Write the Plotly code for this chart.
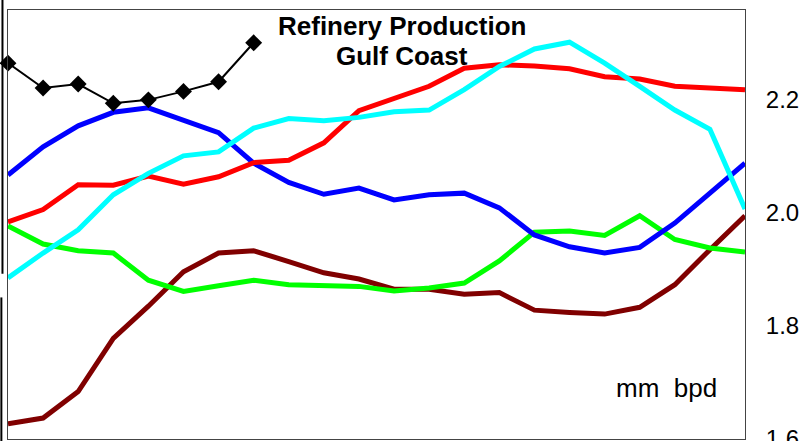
import plotly.graph_objects as go

periods = list(range(22))

red_vals = [1.984, 2.006, 2.050, 2.049, 2.065, 2.051, 2.064, 2.089, 2.093, 2.124, 2.181,
            2.203, 2.224, 2.256, 2.262, 2.260, 2.255, 2.241, 2.237, 2.224, 2.221, 2.218]
cyan_vals = [1.885, 1.929, 1.970, 2.032, 2.070, 2.101, 2.108, 2.150, 2.167, 2.163, 2.169,
             2.179, 2.182, 2.218, 2.259, 2.290, 2.302, 2.265, 2.224, 2.182, 2.148, 2.007]
blue_vals = [2.067, 2.117, 2.154, 2.178, 2.186, 2.163, 2.142, 2.088, 2.054, 2.033, 2.044,
             2.023, 2.032, 2.035, 2.009, 1.961, 1.940, 1.929, 1.939, 1.982, 2.035, 2.088]
green_vals = [1.977, 1.945, 1.933, 1.929, 1.881, 1.861, 1.871, 1.881, 1.873, 1.871, 1.870,
              1.862, 1.867, 1.876, 1.915, 1.966, 1.968, 1.960, 1.995, 1.953, 1.938, 1.931]
maroon_vals = [1.627, 1.637, 1.684, 1.778, 1.835, 1.896, 1.929, 1.933, 1.914, 1.894, 1.883,
               1.865, 1.865, 1.856, 1.859, 1.828, 1.824, 1.821, 1.833, 1.873, 1.935, 1.995]
black_vals = [2.265, 2.221, 2.228, 2.194, 2.200, 2.215, 2.232, 2.301]

y_ticks = [1.6, 1.8, 2.0, 2.2]
y_tick_labels = ["1.6", "1.8", "2.0", "2.2"]

series = [
    (maroon_vals, "#800000"),
    (green_vals, "#00FF00"),
    (blue_vals, "#0000FF"),
    (red_vals, "#FF0000"),
    (cyan_vals, "#00FFFF"),
]

fig = go.Figure()
for vals, color in series:
    fig.add_trace(go.Scatter(x=periods, y=vals, mode="lines",
                             line=dict(color=color, width=5), showlegend=False,
                             hoverinfo="skip"))

fig.add_trace(go.Scatter(x=periods[:len(black_vals)], y=black_vals, mode="lines+markers",
                         line=dict(color="black", width=2),
                         marker=dict(symbol="diamond", size=13, color="black"),
                         showlegend=False, hoverinfo="skip", cliponaxis=False))

title_font = dict(size=26, family="Liberation Sans, Arial, sans-serif")

fig.update_layout(
    width=808, height=441,
    margin=dict(l=8, r=63, t=10, b=2, autoexpand=False),
    paper_bgcolor="white", plot_bgcolor="white",
    font=dict(family="Liberation Sans, Arial, sans-serif", color="black"),
    xaxis=dict(range=[0, 21], showgrid=False, zeroline=False, showticklabels=False,
               ticks="", showline=True, linecolor="#444", linewidth=1, mirror=True,
               automargin=False),
    yaxis=dict(range=[1.6, 2.359], side="right", tickvals=y_ticks, ticktext=y_tick_labels,
               showgrid=False, zeroline=False, ticks="outside", ticklen=15,
               tickcolor="rgba(0,0,0,0)", tickfont=dict(size=24), ticklabeloverflow="allow",
               showline=True, linecolor="#444", linewidth=1, mirror=True,
               automargin=False),
    annotations=[
        dict(text="<b>Refinery Production</b>", xref="paper", yref="paper",
             x=0.535, y=0.963, xanchor="center", yanchor="middle", showarrow=False,
             font=title_font),
        dict(text="<b>Gulf Coast</b>", xref="paper", yref="paper",
             x=0.535, y=0.893, xanchor="center", yanchor="middle", showarrow=False,
             font=title_font),
        dict(text="mm  bpd", xref="paper", yref="paper", x=0.893, y=0.12,
             xanchor="center", yanchor="middle", showarrow=False,
             font=dict(size=26, family="Liberation Sans, Arial, sans-serif")),
    ],
    shapes=[
        dict(type="line", xref="paper", yref="paper", x0=-0.0075, x1=-0.0075, y0=0.385, y1=1.05,
             line=dict(color="black", width=2)),
        dict(type="line", xref="paper", yref="paper", x0=-0.009, x1=-0.009, y0=-0.05, y1=0.33,
             line=dict(color="black", width=2)),
    ],
)

fig.write_html("out.html", config={"displayModeBar": False},
               post_script="document.body.style.margin='0';")
